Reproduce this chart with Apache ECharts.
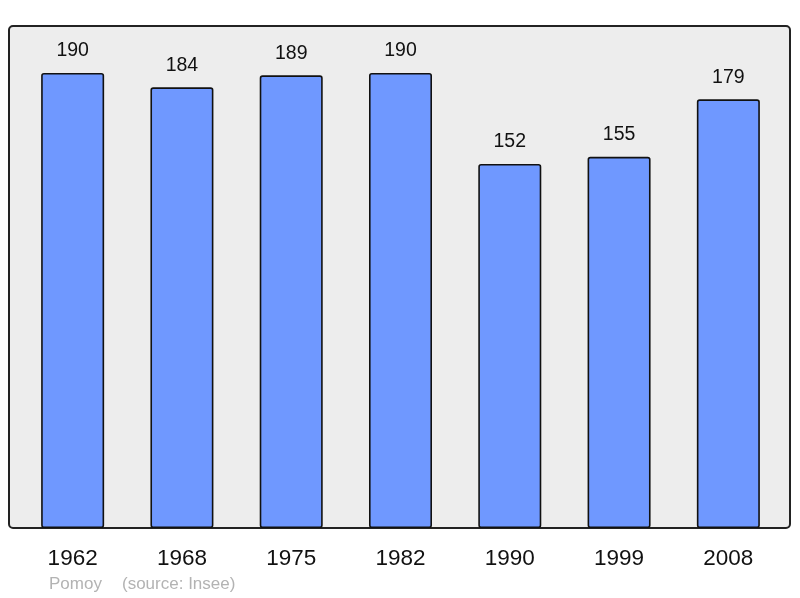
<!DOCTYPE html>
<html lang="fr">
<head>
    <meta charset="UTF-8">
    <title>Pomoy</title>
    <script src="https://cdn.jsdelivr.net/npm/echarts@6/dist/echarts.min.js"></script>
    <style>
        html, body { margin: 0; padding: 0; background: #fff; }
        #main { width: 800px; height: 598px; }
    </style>
</head>
<body>
<div id="main"></div>
<script>
    // données de population
    var years = ['1962', '1968', '1975', '1982', '1990', '1999', '2008'];
    var population = [190, 184, 189, 190, 152, 155, 179];
    var commune = 'Pomoy';
    var source = '(source: Insee)';

    var myChart = echarts.init(document.getElementById('main'));

    var option = {
        backgroundColor: '#fff',
        animation: false,
        textStyle: { fontFamily: 'Liberation Sans, Arial, sans-serif' },
        graphic: [
            {
                type: 'rect',
                z: -1,
                shape: { x: 9, y: 26, width: 781, height: 502, r: 4 },
                style: { fill: '#ededed', stroke: '#222', lineWidth: 2 }
            },
            {
                type: 'text',
                left: 49, top: 576,
                style: { text: commune, fill: '#b3b3b3', fontSize: 17, fontFamily: 'Liberation Sans, Arial, sans-serif' }
            },
            {
                type: 'text',
                left: 122, top: 576,
                style: { text: source, fill: '#b3b3b3', fontSize: 17, fontFamily: 'Liberation Sans, Arial, sans-serif' }
            }
        ],
        grid: { left: 18, right: 17, top: 49, bottom: 70 },
        xAxis: {
            type: 'category',
            data: years,
            axisLine: { show: false },
            axisTick: { show: false },
            axisLabel: { color: '#111', fontSize: 22.5, margin: 19 }
        },
        yAxis: {
            type: 'value',
            min: 0,
            max: 200,
            show: false,
            splitLine: { show: false }
        },
        series: [{
            type: 'bar',
            data: population,
            barWidth: 63,
            itemStyle: { color: '#6f98ff', borderColor: '#111', borderWidth: 1.6, borderRadius: 2 },
            label: { show: true, position: 'top', distance: 12, color: '#111', fontSize: 19.5 }
        }]
    };

    myChart.setOption(option);
</script>
</body>
</html>
